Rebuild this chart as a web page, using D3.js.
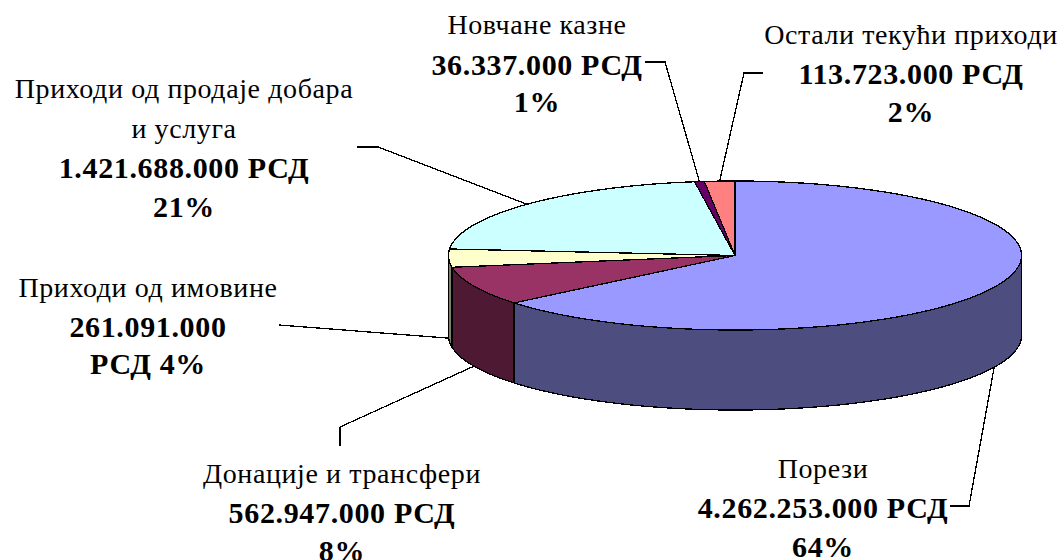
<!DOCTYPE html>
<html>
<head>
<meta charset="utf-8">
<script src="https://cdn.jsdelivr.net/npm/d3@7"></script>
<style>
  html, body { margin: 0; padding: 0; background: #fff; overflow: hidden; }
  text { font-family: "Liberation Serif", serif; font-size: 28px; letter-spacing: 0.6px; fill: #000; }
  text.bold { font-size: 30px; font-weight: bold; letter-spacing: 0.65px; }
</style>
</head>
<body>
<div id="chart"></div>
<script>
const categories = ['Порези', 'Донације и трансфери', 'Приходи од имовине', 'Приходи од продаје добара и услуга', 'Новчане казне', 'Остали текући приходи']
const values = [4262253000, 562947000, 261091000, 1421688000, 36337000, 113723000]
const valueLabels = ['4.262.253.000 РСД', '562.947.000 РСД', '261.091.000 РСД', '1.421.688.000 РСД', '36.337.000 РСД', '113.723.000 РСД']
const percentLabels = ['64%', '8%', '4%', '21%', '1%', '2%']
const topColors = ['#9999ff', '#993366', '#ffffcc', '#ccffff', '#660066', '#ff8080']
const wallColors = ['#4d4d80', '#4d1933', '#808066', '#668080', '#330033', '#804040']

const width = 1062, height = 560
const cx = 735, cy = 255.5, rx = 286.5, ry = 74.5, depth = 80

// label placement: text lines (bold flag, baseline) and the leader elbows, by slice index
const labelBoxes = [
  { x: 823, lines: [[categories[0], 0, 478], [valueLabels[0], 1, 518], [percentLabels[0], 1, 557]], leader: [[950, 506], [969, 506]] },
  { x: 342, lines: [[categories[1], 0, 483], [valueLabels[1], 1, 523], [percentLabels[1], 1, 561]], leader: [[340, 446], [340, 427]] },
  { x: 148, lines: [[categories[2], 0, 297], ['261.091.000', 1, 337], ['РСД ' + percentLabels[2], 1, 374]], leader: [[279, 325]] },
  { x: 184, lines: [['Приходи од продаје добара', 0, 98], ['и услуга', 0, 138], [valueLabels[3], 1, 178], [percentLabels[3], 1, 217]], leader: [[357, 147], [378, 147]] },
  { x: 537, lines: [[categories[4], 0, 34], [valueLabels[4], 1, 75], [percentLabels[4], 1, 112]], leader: [[645, 62], [665, 62]] },
  { x: 911, lines: [[categories[5], 0, 44], [valueLabels[5], 1, 84], [percentLabels[5], 1, 122]], leader: [[763, 73], [744, 73]] }
]

const svg = d3.select('#chart').append('svg')
  .attr('width', width)
  .attr('height', height)

const xScale = d3.scaleLinear().domain([-1, 1]).range([cx - rx, cx + rx])
const yScale = d3.scaleLinear().domain([-1, 1]).range([cy - ry, cy + ry])

const px = a => xScale(Math.sin(a))
const py = a => yScale(-Math.cos(a))

const slices = d3.pie().sort(null)(values)

// sample an arc of the ellipse
function arcPoints(a0, a1, dy) {
  const n = Math.max(2, Math.ceil((a1 - a0) / 0.02))
  return d3.range(n + 1).map(i => {
    const a = a0 + (a1 - a0) * i / n
    return [px(a), py(a) + dy]
  })
}

const line = d3.line()
const shape = 'crispEdges'

// side wall, only the front half of the pie shows it
slices.forEach((s, i) => {
  const a0 = Math.max(s.startAngle, Math.PI / 2)
  const a1 = Math.min(s.endAngle, Math.PI * 1.5)
  if (a1 <= a0) return
  const pts = arcPoints(a0, a1, 0).concat(arcPoints(a0, a1, depth).reverse())
  svg.append('path')
    .attr('d', line(pts) + 'Z')
    .attr('fill', wallColors[i])
    .attr('stroke', '#000')
    .attr('stroke-width', 1.3)
    .attr('shape-rendering', shape)
})

// top face
slices.forEach((s, i) => {
  const pts = [[cx, cy]].concat(arcPoints(s.startAngle, s.endAngle, 0))
  svg.append('path')
    .attr('d', line(pts) + 'Z')
    .attr('fill', topColors[i])
    .attr('stroke', '#000')
    .attr('stroke-width', 1.3)
    .attr('shape-rendering', shape)
})

// leader lines run from the middle of each slice to the label
slices.forEach((s, i) => {
  const mid = (s.startAngle + s.endAngle) / 2
  const front = Math.cos(mid) < 0
  const end = [px(mid), py(mid) + (front ? depth : 0)]
  svg.append('path')
    .attr('d', line(labelBoxes[i].leader.concat([end])))
    .attr('fill', 'none')
    .attr('stroke', '#000')
    .attr('stroke-width', 1.3)
    .attr('shape-rendering', shape)
})

// labels
labelBoxes.forEach(box => {
  box.lines.forEach(l => {
    svg.append('text')
      .attr('class', l[1] ? 'bold' : null)
      .attr('x', box.x)
      .attr('y', l[2])
      .attr('text-anchor', 'middle')
      .text(l[0])
  })
})
</script>
</body>
</html>
